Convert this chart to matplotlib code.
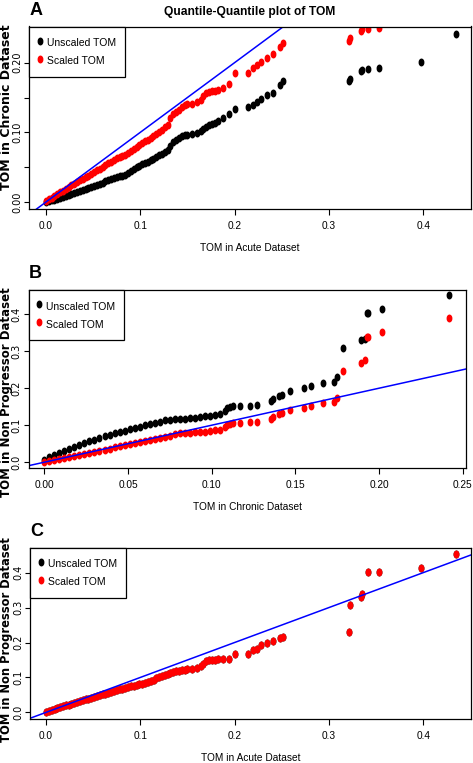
import matplotlib
matplotlib.use("Agg")
import matplotlib.pyplot as plt
from matplotlib.path import Path
from matplotlib import font_manager

# --- data (sorted quantiles) ---
# panel A and C share the acute-dataset quantiles on x
acute_q = [0.000, 0.003, 0.006, 0.009, 0.012, 0.015, 0.018, 0.021, 0.024, 0.027,
           0.030, 0.033, 0.036, 0.039, 0.042, 0.045, 0.048, 0.051, 0.054, 0.057,
           0.060, 0.063, 0.066, 0.069, 0.072, 0.075, 0.078, 0.081, 0.084, 0.087,
           0.090, 0.093, 0.096, 0.099, 0.102, 0.105, 0.108, 0.111, 0.114, 0.117,
           0.120, 0.123, 0.126, 0.129, 0.132, 0.135, 0.138, 0.141, 0.144, 0.147,
           0.150, 0.155, 0.160, 0.164, 0.167, 0.170, 0.173, 0.176, 0.179, 0.182,
           0.188, 0.194, 0.200, 0.2145, 0.220, 0.2237, 0.2277, 0.234, 0.2404, 0.248,
           0.251, 0.3217, 0.3224, 0.3337, 0.335, 0.3418, 0.3535, 0.3977, 0.4345]

chronic_unscaled_A = [0.000, 0.001, 0.0025, 0.0035, 0.0048, 0.006, 0.007, 0.0085, 0.010, 0.0115,
                      0.013, 0.0145, 0.016, 0.0175, 0.019, 0.0205, 0.022, 0.0235, 0.025, 0.0265,
                      0.028, 0.0295, 0.031, 0.0325, 0.034, 0.0355, 0.037, 0.038, 0.039, 0.0415,
                      0.044, 0.047, 0.0505, 0.052, 0.054, 0.0565, 0.058, 0.060, 0.062, 0.065,
                      0.067, 0.069, 0.072, 0.075, 0.080, 0.0864, 0.089, 0.092, 0.095, 0.096,
                      0.0965, 0.097, 0.099, 0.102, 0.105, 0.108, 0.110, 0.1115, 0.113, 0.116,
                      0.121, 0.127, 0.134, 0.1357, 0.139, 0.143, 0.148, 0.153, 0.157, 0.1676,
                      0.173, 0.1735, 0.177, 0.188, 0.190, 0.1915, 0.193, 0.201, 0.2417]

chronic_scaled_A = [0.002, 0.004, 0.0065, 0.009, 0.0115, 0.014, 0.0165, 0.019, 0.0215, 0.024,
                    0.0265, 0.029, 0.031, 0.0335, 0.036, 0.038, 0.0405, 0.043, 0.0455, 0.048,
                    0.0505, 0.053, 0.0555, 0.058, 0.060, 0.0625, 0.064, 0.066, 0.068, 0.070,
                    0.073, 0.076, 0.079, 0.0815, 0.084, 0.087, 0.089, 0.092, 0.095, 0.098,
                    0.101, 0.104, 0.107, 0.111, 0.120, 0.126, 0.129, 0.132, 0.136, 0.139,
                    0.140, 0.141, 0.143, 0.147, 0.152, 0.1566, 0.158, 0.159, 0.160, 0.1614,
                    0.163, 0.170, 0.185, 0.185, 0.193, 0.196, 0.201, 0.2067, 0.213, 0.2225,
                    0.228, 0.231, 0.235, 0.246, 0.248, 0.249, 0.250, 0.28, 0.31]

nonprog_scaled_C = [0.002, 0.004, 0.0065, 0.009, 0.0118, 0.0145, 0.017, 0.020, 0.0225, 0.025,
                    0.0275, 0.030, 0.032, 0.0345, 0.037, 0.039, 0.0415, 0.044, 0.047, 0.0495,
                    0.052, 0.054, 0.0565, 0.059, 0.0615, 0.064, 0.066, 0.068, 0.070, 0.072,
                    0.0745, 0.0765, 0.0785, 0.0805, 0.0825, 0.085, 0.088, 0.090, 0.0925, 0.098,
                    0.102, 0.104, 0.106, 0.109, 0.112, 0.115, 0.118, 0.1195, 0.121, 0.122,
                    0.1235, 0.125, 0.126, 0.132, 0.139, 0.147, 0.149, 0.150, 0.151, 0.152,
                    0.1536, 0.154, 0.166, 0.167, 0.1785, 0.1805, 0.1928, 0.1977, 0.204, 0.2138,
                    0.2166, 0.230, 0.3074, 0.3295, 0.3385, 0.402, 0.402, 0.4144, 0.4527]
# unscaled points in C sit underneath the red ones
nonprog_unscaled_C = list(nonprog_scaled_C)

# panel B: chronic quantiles on x
chronic_q = [0.000, 0.003, 0.006, 0.009, 0.012, 0.015, 0.018, 0.021, 0.024, 0.027,
             0.030, 0.033, 0.036, 0.039, 0.042, 0.045, 0.048, 0.051, 0.054, 0.057,
             0.060, 0.063, 0.066, 0.069, 0.072, 0.075, 0.078, 0.081, 0.084, 0.087,
             0.090, 0.093, 0.096, 0.099, 0.102, 0.105,
             0.108, 0.109, 0.111, 0.113, 0.117, 0.1229, 0.1269, 0.1352, 0.1368, 0.1404,
             0.1418, 0.1468, 0.1553, 0.1593, 0.1663, 0.1733, 0.1747, 0.1786, 0.1894, 0.1918,
             0.1926, 0.1936, 0.2016, 0.2419]

nonprog_unscaled_B = [0.006, 0.013, 0.019, 0.025, 0.031, 0.036, 0.041, 0.046, 0.051, 0.056,
                      0.061, 0.065, 0.070, 0.074, 0.078, 0.081, 0.085, 0.089, 0.092, 0.096,
                      0.100, 0.103, 0.106, 0.110, 0.113, 0.115, 0.1165, 0.117, 0.118, 0.119,
                      0.1205, 0.122, 0.124, 0.126, 0.128, 0.130,
                      0.138, 0.1475, 0.150, 0.152, 0.152, 0.1525, 0.154, 0.1657, 0.172, 0.179,
                      0.181, 0.193, 0.1994, 0.2066, 0.2148, 0.2175, 0.2295, 0.3087, 0.3314, 0.332,
                      0.403, 0.403, 0.414, 0.4525]

nonprog_scaled_B = [0.000, 0.003, 0.0055, 0.008, 0.011, 0.014, 0.017, 0.020, 0.0225, 0.025,
                    0.028, 0.031, 0.034, 0.037, 0.040, 0.043, 0.0455, 0.048, 0.051, 0.054,
                    0.057, 0.060, 0.063, 0.066, 0.069, 0.072, 0.075, 0.078, 0.079, 0.080,
                    0.081, 0.082, 0.083, 0.085, 0.086, 0.088,
                    0.095, 0.100, 0.103, 0.1066, 0.1066, 0.1075, 0.1075, 0.1175, 0.123, 0.129,
                    0.132, 0.140, 0.1466, 0.152, 0.159, 0.163, 0.174, 0.2475, 0.2686, 0.276,
                    0.339, 0.339, 0.3505, 0.389]

legend_labels = ["Unscaled TOM", "Scaled TOM"]

W, H = 473, 763

# the source image is squeezed sideways; a narrow face helps if one is installed
_names = {f.name for f in font_manager.fontManager.ttflist}
if "Liberation Sans Narrow" in _names:
    HFONT, HSCALE = ["Liberation Sans Narrow", "DejaVu Sans"], 1.0
else:
    HFONT, HSCALE = ["Liberation Sans", "DejaVu Sans"], 0.85
VFONT = ["DejaVu Sans"]

# R style filled dot, squeezed sideways like the source image
_c = Path.unit_circle()
DOT = Path(_c.vertices * [0.68, 1.0], _c.codes)

fig = plt.figure(figsize=(W / 100, H / 100), dpi=100)


def add_axes_px(left, top, right, bottom):
    return fig.add_axes([left / W, 1 - bottom / H, (right - left) / W, (bottom - top) / H])


def panel(box, x, y_black, y_red, xlim, ylim, xticks, xticklabels, yticks, yticklabels,
          xlabel, ylabel, ylabel_y, ylabel_size, letter):
    left, top, right, bottom = box
    ax = add_axes_px(*box)
    ax.plot(x, y_black, ls="none", marker=DOT, ms=4.7, color="black", label=legend_labels[0])
    ax.plot(x, y_red, ls="none", marker=DOT, ms=4.7, color="red", label=legend_labels[1])
    ax.axline((0, 0), slope=1, color="blue", lw=1.1)
    ax.set_xlim(*xlim)
    ax.set_ylim(*ylim)
    ax.set_xticks(xticks)
    ax.set_xticklabels(xticklabels, family=HFONT, fontsize=8.6 * HSCALE)
    ax.set_yticks(yticks)
    ax.set_yticklabels(yticklabels, family=VFONT, fontsize=7, rotation=90, va="center")
    ax.tick_params(axis="x", length=4.5, width=0.8, pad=4.0)
    ax.tick_params(axis="y", length=3.8, width=0.8, pad=1.0)
    for s in ax.spines.values():
        s.set_linewidth(0.9)
    ax.set_xlabel(xlabel, family=HFONT, fontsize=8.6 * HSCALE)
    ax.xaxis.set_label_coords(0.5, -(34 / (bottom - top)))
    # y label sits against the image edge
    fig.text(6.6 / W, 1 - ylabel_y / H, ylabel, rotation=90, ha="center",
             va="center", family=VFONT, fontweight="bold", fontsize=ylabel_size)
    fig.text((left + 7) / W, 1 - (top - 16) / H, letter, ha="center", va="center",
             family=["Liberation Sans", "DejaVu Sans"], fontweight="bold", fontsize=13)
    leg = ax.legend(loc="upper left", bbox_to_anchor=(0, 1), borderaxespad=0,
                    prop={"family": HFONT, "size": 8.8 * HSCALE}, frameon=True,
                    fancybox=False, edgecolor="black", framealpha=1,
                    handlelength=0.4, handleheight=1.8, handletextpad=0.45,
                    borderpad=0.85, labelspacing=0.33)
    leg.get_frame().set_linewidth(0.9)
    return ax


axA = panel((29, 26.5, 471, 209), acute_q, chronic_unscaled_A, chronic_scaled_A,
            (-0.018, 0.4507), (-0.010, 0.2519),
            [0.0, 0.1, 0.2, 0.3, 0.4], ["0.0", "0.1", "0.2", "0.3", "0.4"],
            [0.0, 0.05, 0.10, 0.15, 0.20], ["0.00", "", "0.10", "", "0.20"],
            "TOM in Acute Dataset", "TOM in Chronic Dataset", 107, 9.0, "A")
axA.set_title("Quantile-Quantile plot of TOM", family=HFONT, fontweight="bold",
              fontsize=10.2 * HSCALE, pad=8)

panel((28.5, 290, 466, 468), chronic_q, nonprog_unscaled_B, nonprog_scaled_B,
      (-0.0094, 0.2519), (-0.0156, 0.4653),
      [0.0, 0.05, 0.10, 0.15, 0.20, 0.25], ["0.00", "0.05", "0.10", "0.15", "0.20", "0.25"],
      [0.0, 0.1, 0.2, 0.3, 0.4], ["0.0", "0.1", "0.2", "0.3", "0.4"],
      "TOM in Chronic Dataset", "TOM in Non Progressor Dataset", 392, 8.5, "B")

panel((30, 547.5, 471, 719), acute_q, nonprog_unscaled_C, nonprog_scaled_C,
      (-0.017, 0.4507), (-0.019, 0.472),
      [0.0, 0.1, 0.2, 0.3, 0.4], ["0.0", "0.1", "0.2", "0.3", "0.4"],
      [0.0, 0.1, 0.2, 0.3, 0.4], ["0.0", "0.1", "0.2", "0.3", "0.4"],
      "TOM in Acute Dataset", "TOM in Non Progressor Dataset", 640, 8.3, "C")

fig.savefig("out.png", dpi=100)
